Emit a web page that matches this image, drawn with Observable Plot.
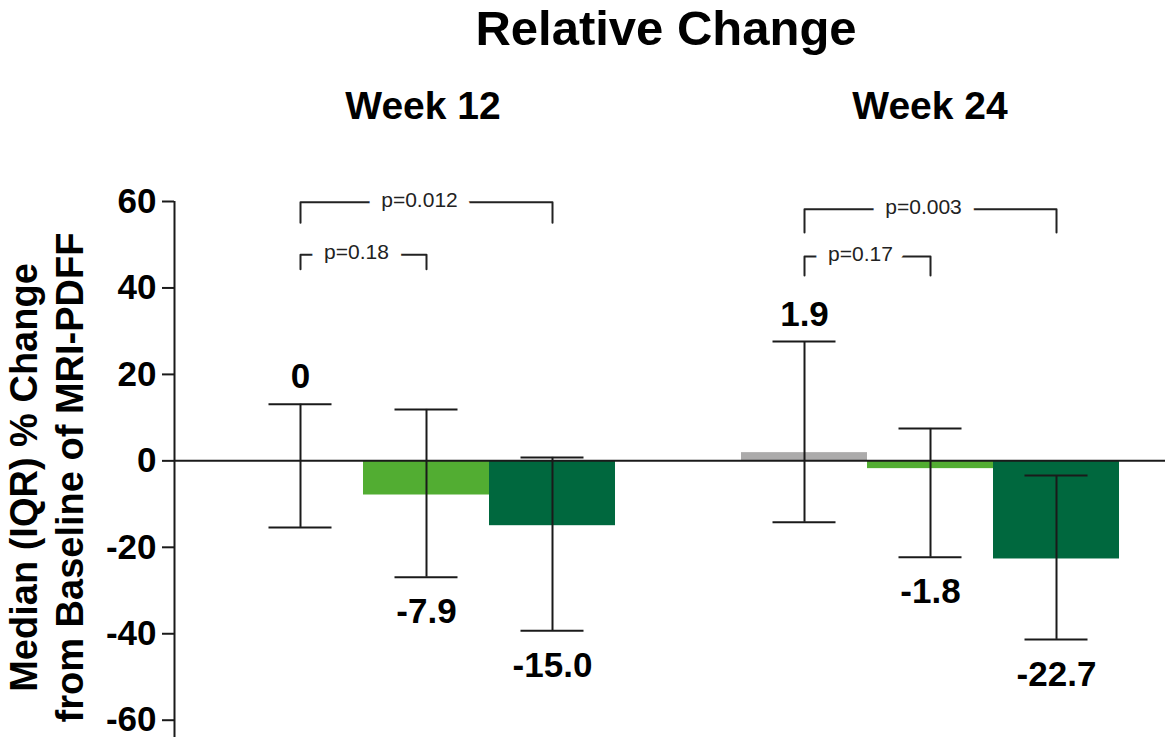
<!DOCTYPE html>
<html><head><meta charset="utf-8">
<script src="https://cdn.jsdelivr.net/npm/d3@7"></script>
<script src="https://cdn.jsdelivr.net/npm/@observablehq/plot@0.6"></script>
<style>
body{margin:0;background:#fff;font-family:"Liberation Sans",Arial,sans-serif;}
#wrap{position:relative;width:1165px;height:737px;overflow:hidden;}
#head{position:relative;height:150px;}
.t{position:absolute;transform:translateX(-50%);white-space:nowrap;font-weight:bold;line-height:1.15;color:#000;}
#chart svg{display:block}
</style></head><body>
<div id="wrap"><div id="head">
<div class="t" style="left:666px;top:0px;font-size:49px">Relative Change</div>
<div class="t" style="left:423px;top:84px;font-size:39px">Week 12</div>
<div class="t" style="left:930px;top:84px;font-size:39px">Week 24</div>
</div><div id="chart"></div></div>
<script>
const weeks = ["Week 12", "Week 24"];
const arms = ["Placebo", "Dose A", "Dose B"];
const armColors = ["#acabab", "#52ad32", "#00683e"];
const medians = [[0, -7.9, -15.0], [1.9, -1.8, -22.7]];
const q1 = [[-15.4, -26.9, -39.3], [-14.2, -22.3, -41.3]];
const q3 = [[13.1, 11.9, 0.8], [27.6, 7.5, -3.4]];
const medianLabels = [["0", "-7.9", "-15.0"], ["1.9", "-1.8", "-22.7"]];
const pLabels = ["p=0.012", "p=0.18", "p=0.003", "p=0.17"];
const pWeek = [0, 0, 1, 1];
const pFromArm = [0, 0, 0, 0];
const pToArm = [2, 1, 2, 1];
const pLineY = [59.8, 47.7, 58.2, 47.3];
const pDropY = [55.1, 44.3, 52.8, 42.9];
const yTicks = [60, 40, 20, 0, -20, -40, -60];
const yLabel = "Median (IQR) % Change\nfrom Baseline of MRI-PDFF";

const slotsPerWeek = arms.length + 1;
const xDomain = [-0.5, 7.365];

const rows = weeks.flatMap((w, i) => arms.map((a, j) => ({
  week: w, arm: a, slot: i * slotsPerWeek + j,
  median: medians[i][j], lo: q1[i][j], hi: q3[i][j], label: medianLabels[i][j]
})));
const caps = rows.flatMap(d => [{...d, v: d.lo}, {...d, v: d.hi}]);

const brackets = pLabels.map((p, k) => {
  const xa = pWeek[k] * slotsPerWeek + pFromArm[k] + 0.5;
  const xb = pWeek[k] * slotsPerWeek + pToArm[k] + 0.5;
  return {id: k, label: p, xa, xb, mid: (xa + xb) / 2, ly: pLineY[k], dy: pDropY[k]};
});
const bracketPts = brackets.flatMap(b => [
  {id: b.id, x: b.xa, y: b.dy}, {id: b.id, x: b.xa, y: b.ly},
  {id: b.id, x: b.xb, y: b.ly}, {id: b.id, x: b.xb, y: b.dy}
]);

const ink = "#1a1a1a";
const chart = Plot.plot({
  width: 1165, height: 587,
  marginLeft: 174, marginRight: 0, marginTop: 51, marginBottom: 0,
  style: {fontFamily: "'Liberation Sans', Arial, sans-serif", background: "white", color: "#000", overflow: "visible"},
  x: {domain: xDomain, axis: null},
  y: {domain: [-64, 60], axis: null},
  color: {domain: arms, range: armColors},
  marks: [
    Plot.rectY(rows, {x1: "slot", x2: d => d.slot + 1, y1: 0, y2: "median", fill: "arm"}),
    Plot.ruleY([0], {stroke: ink, strokeWidth: 2}),
    Plot.ruleX([xDomain[0]], {stroke: ink, strokeWidth: 2}),
    Plot.axisY(yTicks, {tickSize: 12, tickPadding: 6, fontSize: 35, fontWeight: "bold",
      tickFormat: d => String(d), strokeWidth: 2, stroke: ink, label: null}),
    Plot.ruleX(rows, {x: d => d.slot + 0.5, y1: "lo", y2: "hi", stroke: ink, strokeWidth: 2}),
    Plot.ruleY(caps, {y: "v", x1: d => d.slot + 0.25, x2: d => d.slot + 0.75, stroke: ink, strokeWidth: 2}),
    Plot.text(rows.filter(d => d.median >= 0), {x: d => d.slot + 0.5, y: "hi", text: "label",
      fontSize: 35, fontWeight: "bold", fill: "#000", dy: -27}),
    Plot.text(rows.filter(d => d.median < 0), {x: d => d.slot + 0.5, y: "lo", text: "label",
      fontSize: 35, fontWeight: "bold", fill: "#000", dy: 35}),
    Plot.line(bracketPts, {x: "x", y: "y", z: "id", stroke: "#222", strokeWidth: 2, curve: "linear"}),
    Plot.text(brackets, {x: "mid", y: "ly", text: "label", fontSize: 21, fill: "#222",
      stroke: "white", strokeWidth: 26, paintOrder: "stroke", dx: -7, dy: -2}),
    Plot.text([yLabel], {frameAnchor: "left", rotate: -90, fontSize: 38, fontWeight: "bold",
      lineHeight: 1.21, lineAnchor: "middle", textAnchor: "middle", fill: "#000", dx: -129, dy: 8})
  ]
});
document.getElementById("chart").append(chart);
</script>
</body></html>
